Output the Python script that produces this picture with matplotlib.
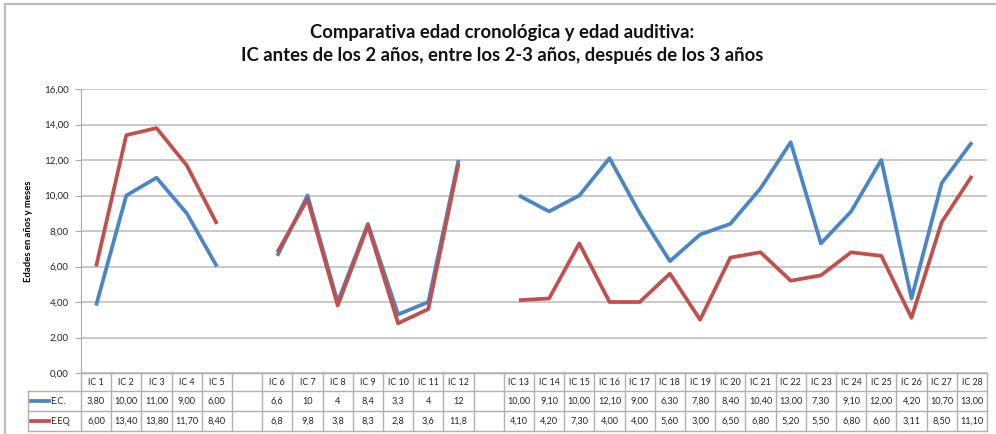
import numpy as np
import matplotlib
matplotlib.use("Agg")
import matplotlib.pyplot as plt
from matplotlib.lines import Line2D
from matplotlib.patches import Rectangle

plt.rcParams['font.family'] = ['Lato', 'DejaVu Sans']

title = ("Comparativa edad cronológica y edad auditiva:\n"
         "IC antes de los 2 años, entre los 2-3 años, después de los 3 años")
ylabel = "Edades en años y meses"
series_names = ["E.C.", "E.EQ"]

group1 = ["IC 1", "IC 2", "IC 3", "IC 4", "IC 5"]
group2 = ["IC 6", "IC 7", "IC 8", "IC 9", "IC 10", "IC 11", "IC 12"]
group3 = ["IC 13", "IC 14", "IC 15", "IC 16", "IC 17", "IC 18", "IC 19", "IC 20",
          "IC 21", "IC 22", "IC 23", "IC 24", "IC 25", "IC 26", "IC 27", "IC 28"]

ec1 = [3.80, 10.00, 11.00, 9.00, 6.00]
ec2 = [6.6, 10, 4, 8.4, 3.3, 4, 12]
ec3 = [10.00, 9.10, 10.00, 12.10, 9.00, 6.30, 7.80, 8.40, 10.40, 13.00, 7.30, 9.10,
       12.00, 4.20, 10.70, 13.00]

eq1 = [6.00, 13.40, 13.80, 11.70, 8.40]
eq2 = [6.8, 9.8, 3.8, 8.3, 2.8, 3.6, 11.8]
eq3 = [4.10, 4.20, 7.30, 4.00, 4.00, 5.60, 3.00, 6.50, 6.80, 5.20, 5.50, 6.80, 6.60,
       3.11, 8.50, 11.10]

yticks = [0, 2, 4, 6, 8, 10, 12, 14, 16]

blue = "#4A86C5"
red = "#C0504D"
grid_c = "#C4C4C4"

def fmt2(v):
    return f"{v:.2f}".replace(".", ",")

def fmtg(v):
    return f"{v:g}".replace(".", ",")

# build columns with blank separators
labels, ec, eq, ec_txt, eq_txt = [], [], [], [], []
groups = [(group1, ec1, eq1, fmt2), (group2, ec2, eq2, fmtg), (group3, ec3, eq3, fmt2)]
for gi, (g, e, q, f) in enumerate(groups):
    if gi > 0:
        labels.append("")
        ec.append(np.nan); eq.append(np.nan)
        ec_txt.append(""); eq_txt.append("")
    labels += g
    ec += e
    eq += q
    ec_txt += [f(v) for v in e]
    eq_txt += [f(v) for v in q]
n = len(labels)
x = np.arange(n)

W, H = 996, 434
fig = plt.figure(figsize=(W / 100, H / 100), dpi=100)
fig.patch.set_facecolor("white")

def fx(p): return p / W
def fy(p): return 1 - p / H

# outer frame
fig.patches.append(Rectangle((fx(5), fy(440)), fx(1010) - fx(5), fy(4) - fy(440),
                             transform=fig.transFigure, fill=False,
                             edgecolor="#BDBDBD", lw=1.6, zorder=0))

L, R, T, B = 81, 987, 89, 373
ax = fig.add_axes([fx(L), fy(B), fx(R) - fx(L), fy(T) - fy(B)])
ax.plot(x, ec, color=blue, lw=2.7, solid_joinstyle="round", solid_capstyle="butt", zorder=3)
ax.plot(x, eq, color=red, lw=2.7, solid_joinstyle="round", solid_capstyle="butt", zorder=3)
ax.set_xlim(-0.5, n - 0.5)
ax.set_ylim(0, 16)
ax.set_yticks(yticks)
ax.set_yticklabels([fmt2(v) for v in yticks], fontsize=7, color="#222222")
ax.set_xticks([])
ax.grid(axis="y", color=grid_c, lw=1.3)
ax.set_axisbelow(True)
for s in ["top", "right"]:
    ax.spines[s].set_visible(False)
ax.spines["left"].set_color("#A8A8A8")
ax.spines["bottom"].set_color("#A8A8A8")
ax.tick_params(axis="y", length=4, color="#A8A8A8", pad=5)
ax.set_ylabel(ylabel, fontsize=6.8, fontweight="bold", labelpad=8)

fig.text(fx(502), fy(44), title, ha="center", va="center", fontsize=13.3,
         fontweight="bold", linespacing=1.45, color="#111111")

# data table
tax = fig.add_axes([fx(L), fy(431), fx(R) - fx(L), fy(373) - fy(431)])
tax.set_xlim(-0.5, n - 0.5)
tax.set_ylim(431, 373)
tax.axis("off")
colw = (R - L) / n
xl = -0.5 - (L - 28) / colw
line_c = "#B0B0B0"
rows_y = [373, 391, 411, 431]
tax.add_line(Line2D([-0.5, n - 0.5], [373, 373], color=line_c, lw=1.0, clip_on=False))
for yy in rows_y[1:]:
    tax.add_line(Line2D([xl, n - 0.5], [yy, yy], color=line_c, lw=1.0, clip_on=False))
for k in range(n + 1):
    tax.add_line(Line2D([k - 0.5, k - 0.5], [373, 431], color=line_c, lw=1.0, clip_on=False))
tax.add_line(Line2D([xl, xl], [391, 431], color=line_c, lw=1.0, clip_on=False))

cy = [(rows_y[i] + rows_y[i + 1]) / 2 for i in range(3)]
for i in range(n):
    tax.text(i, cy[0], labels[i], ha="center", va="center", fontsize=6.4, color="#222222")
    tax.text(i, cy[1], ec_txt[i], ha="center", va="center", fontsize=6.6, color="#222222")
    tax.text(i, cy[2], eq_txt[i], ha="center", va="center", fontsize=6.6, color="#222222")

k0 = -0.5 - (L - 31) / colw
k1 = -0.5 - (L - 49) / colw
kt = -0.5 - (L - 50) / colw
for (name, col, yy) in [(series_names[0], blue, cy[1]), (series_names[1], red, cy[2])]:
    tax.add_line(Line2D([k0, k1], [yy, yy], color=col, lw=2.7, clip_on=False))
    tax.text(kt, yy, name, ha="left", va="center", fontsize=6.6, color="#222222", clip_on=False)

fig.savefig("out.png", dpi=100, facecolor="white")
